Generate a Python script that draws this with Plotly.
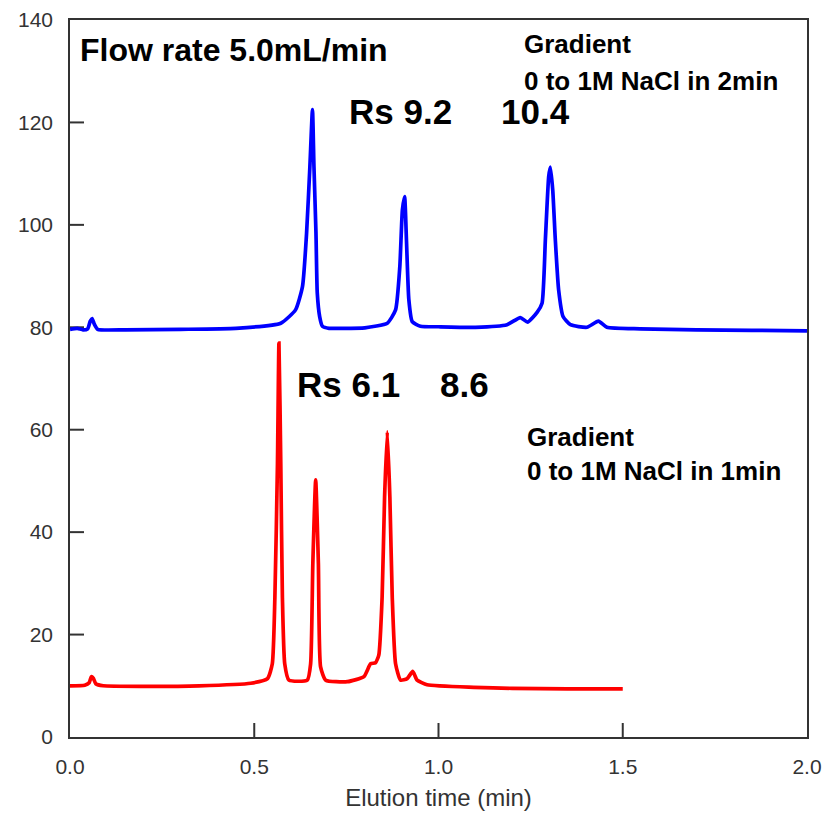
import plotly.graph_objects as go

# Chromatogram at 5.0 mL/min, 0 to 1 M NaCl gradient over 2 min (upper trace)
t_grad2 = [0.000, 0.020, 0.035, 0.048, 0.055, 0.060, 0.066, 0.075, 0.150, 0.300,
           0.450, 0.572, 0.612, 0.631, 0.642, 0.651, 0.658, 0.662, 0.6675, 0.671,
           0.6775, 0.685, 0.703, 0.734, 0.800, 0.861, 0.8835, 0.895, 0.902, 0.908,
           0.913, 0.9195, 0.9287, 0.951, 1.000, 1.100, 1.186, 1.222, 1.242, 1.2675,
           1.281, 1.290, 1.299, 1.3035, 1.310, 1.317, 1.326, 1.338, 1.358, 1.403,
           1.434, 1.457, 1.547, 1.700, 1.850, 2.000]
sig_grad2 = [79.6, 79.8, 79.5, 79.7, 81.2, 81.7, 80.6, 79.6, 79.5, 79.6,
             79.8, 80.8, 83.4, 88.0, 98.4, 111.4, 122.5, 111.4, 98.4, 86.7,
             82.1, 80.2, 79.8, 79.8, 79.9, 80.8, 83.4, 91.8, 102.9, 105.5,
             97.1, 85.4, 81.1, 80.2, 80.1, 80.0, 80.5, 81.9, 81.0, 82.9,
             84.7, 97.1, 109.4, 111.3, 106.8, 97.1, 87.3, 82.1, 80.5, 80.0,
             81.2, 80.0, 79.7, 79.5, 79.4, 79.3]

# Chromatogram at 5.0 mL/min, 0 to 1 M NaCl gradient over 1 min (lower trace)
t_grad1 = [0.000, 0.040, 0.052, 0.058, 0.063, 0.070, 0.090, 0.200, 0.350, 0.4905,
           0.536, 0.549, 0.556, 0.563, 0.567, 0.572, 0.5764, 0.5827, 0.594, 0.644,
           0.653, 0.659, 0.6667, 0.674, 0.680, 0.694, 0.7525, 0.7976, 0.8157, 0.829,
           0.838, 0.847, 0.8537, 0.861, 0.868, 0.8745, 0.8835, 0.897, 0.915, 0.930,
           0.942, 0.969, 1.096, 1.200, 1.350, 1.500]
sig_grad1 = [10.0, 10.1, 10.6, 11.8, 11.5, 10.4, 10.0, 9.9, 10.0, 10.5,
             11.4, 14.3, 27.3, 53.4, 76.9, 53.4, 27.3, 14.3, 11.1, 11.1,
             14.3, 33.9, 50.2, 33.9, 13.7, 11.1, 10.8, 11.8, 14.3, 14.5,
             16.0, 27.3, 46.9, 59.6, 46.9, 27.3, 14.3, 11.1, 11.4, 12.8,
             11.1, 10.2, 9.7, 9.5, 9.4, 9.4]

x_ticks = [0.0, 0.5, 1.0, 1.5, 2.0]
x_tick_text = ["0.0", "0.5", "1.0", "1.5", "2.0"]
y_ticks = [0, 20, 40, 60, 80, 100, 120, 140]
x_range = [0, 2]
y_range = [0, 140]

fig = go.Figure()

# Inward tick marks: line symbols centred on the frame edges; the plot-area
# clip keeps only the half that points into the frame.
tick_color = "#333333"
fig.add_trace(go.Scatter(x=x_ticks[1:-1], y=[y_range[0]] * (len(x_ticks) - 2),
                         mode="markers", cliponaxis=True,
                         marker=dict(symbol="line-ns", size=20,
                                     line=dict(width=2, color=tick_color)),
                         showlegend=False, hoverinfo="skip"))
fig.add_trace(go.Scatter(x=[x_range[0]] * (len(y_ticks) - 2), y=y_ticks[1:-1],
                         mode="markers", cliponaxis=True,
                         marker=dict(symbol="line-ew", size=20,
                                     line=dict(width=2, color=tick_color)),
                         showlegend=False, hoverinfo="skip"))

fig.add_trace(go.Scatter(x=t_grad2, y=sig_grad2, mode="lines", xaxis="x2", yaxis="y2",
                         line=dict(color="#0000FF", width=3.7, shape="spline", smoothing=0.5),
                         showlegend=False, hoverinfo="skip"))
fig.add_trace(go.Scatter(x=t_grad1, y=sig_grad1, mode="lines", xaxis="x2", yaxis="y2",
                         line=dict(color="#FF0000", width=3.7, shape="spline", smoothing=0.5),
                         showlegend=False, hoverinfo="skip"))

font_family = "Liberation Sans, Arial, sans-serif"
bold = dict(family=font_family, color="#000000")

def label(x, y, text, size):
    fig.add_annotation(x=x, y=y, xref="x", yref="y", text="<b>%s</b>" % text,
                       showarrow=False, xanchor="left", yanchor="middle",
                       font=dict(size=size, **bold))

label(0.022, 134.2, "Flow rate 5.0mL/min", 32)
label(1.226, 135.4, "Gradient", 26)
label(1.226, 128.1, "0 to 1M NaCl in 2min", 26)
label(0.752, 122.1, "Rs 9.2", 35)
label(1.163, 122.1, "10.4", 35)
label(0.610, 68.8, "Rs 6.1", 35)
label(0.998, 68.8, "8.6", 35)
label(1.234, 58.6, "Gradient", 26)
label(1.234, 52.0, "0 to 1M NaCl in 1min", 26)

tick_font = dict(family=font_family, size=21, color="#333333")
plain = dict(showgrid=False, zeroline=False, automargin=False)

fig.update_layout(
    # Box frame
    xaxis=dict(range=x_range, showline=True, linecolor="#333333", linewidth=2,
               mirror=True, ticks="", showticklabels=False, **plain),
    yaxis=dict(range=y_range, showline=True, linecolor="#333333", linewidth=2,
               mirror=True, ticks="", showticklabels=False, **plain),
    # Tick labels and axis title
    xaxis2=dict(range=x_range, overlaying="x", anchor="y2", side="bottom",
                tickvals=x_ticks, ticktext=x_tick_text, ticks="", showline=False,
                ticklabelstandoff=15, tickfont=tick_font,
                title=dict(text="Elution time (min)", standoff=12,
                           font=dict(family=font_family, size=24, color="#333333")),
                **plain),
    yaxis2=dict(range=y_range, overlaying="y", anchor="x2", side="left",
                tickvals=y_ticks, ticks="", showline=False,
                ticklabelstandoff=16, tickfont=tick_font, **plain),
)

fig.update_layout(template="none", width=825, height=826,
                  plot_bgcolor="white", paper_bgcolor="white",
                  margin=dict(l=70, r=18, t=20, b=89, autoexpand=False))

fig.write_html("out.html")
